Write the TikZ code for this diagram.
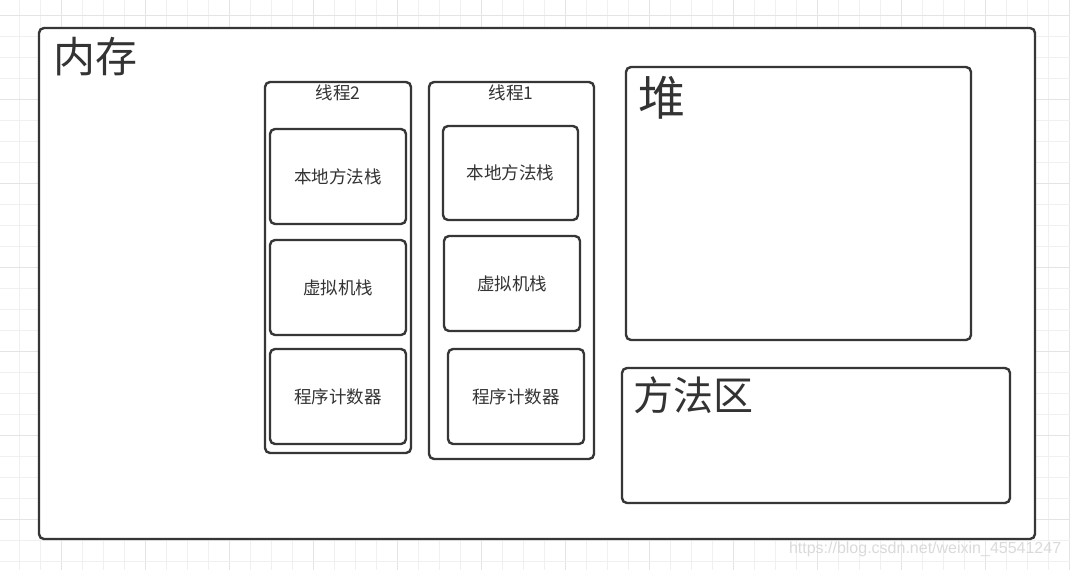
\documentclass[tikz,border=0pt]{standalone}
\usepackage{fontspec}
\setmainfont{Noto Sans CJK SC}
\newfontfamily\wmfont{Liberation Sans}
\definecolor{linec}{HTML}{363636}
\definecolor{textc}{HTML}{333333}
\definecolor{gridminor}{HTML}{F0F0F0}
\definecolor{gridmajor}{HTML}{E4E4E4}
\definecolor{wmc}{HTML}{DADADA}
\tikzset{
  box/.style={draw=linec, line width=2.4pt, rounded corners=5pt, fill=white,
    inner sep=0pt, outer sep=0pt, anchor=north west},
  lbl/.style={text=textc, inner sep=0pt, outer sep=0pt},
  small/.style={lbl, font=\fontsize{17.5}{20}\selectfont},
  big/.style={lbl, anchor=base west},
  gminor/.style={draw=gridminor, line width=1pt},
  gmajor/.style={draw=gridmajor, line width=1pt},
}
\begin{document}
\begin{tikzpicture}[x=1pt, y=-1pt]
\useasboundingbox (0,0) rectangle (1070,570);
\fill[white] (0,0) rectangle (1070,570);
% background grid
\begin{scope}
\clip (0,0) rectangle (1070,570);
\foreach \k in {0,...,50} {
  \pgfmathsetmacro\xx{19+21*\k}
  \pgfmathtruncatemacro\mm{mod(\k,4)}
  \ifnum\mm=2 \draw[gmajor] (\xx,0) -- (\xx,570);
  \else \draw[gminor] (\xx,0) -- (\xx,570); \fi
}
\foreach \k in {0,...,27} {
  \pgfmathsetmacro\yy{15+21*\k}
  \pgfmathtruncatemacro\mm{mod(\k,4)}
  \ifnum\mm=0 \draw[gmajor] (0,\yy) -- (1070,\yy);
  \else \draw[gminor] (0,\yy) -- (1070,\yy); \fi
}
\end{scope}
% memory
\node[box, minimum width=996pt, minimum height=511pt] (mem) at (39,28) {};
\node[big, font=\fontsize{42}{46}\selectfont] (memlbl) at (53,72) {内存};
% thread 2
\node[box, minimum width=146pt, minimum height=371pt] (t2) at (265,82) {};
\node[small] (t2lbl) at (338,93) {线程2};
\node[box, minimum width=136pt, minimum height=95pt] (t2a) at (270,129) {};
\node[small] at (t2a.center) (t2atx) {本地方法栈};
\node[box, minimum width=136pt, minimum height=95pt] (t2b) at (270,240) {};
\node[small] at (t2b.center) (t2btx) {虚拟机栈};
\node[box, minimum width=136pt, minimum height=95pt] (t2c) at (270,349) {};
\node[small] at (t2c.center) (t2ctx) {程序计数器};
% thread 1
\node[box, minimum width=165pt, minimum height=377pt] (t1) at (429,82) {};
\node[small] (t1lbl) at (511,93) {线程1};
\node[box, minimum width=135pt, minimum height=94pt] (t1a) at (443,126) {};
\node[small] at (t1a.center) (t1atx) {本地方法栈};
\node[box, minimum width=136pt, minimum height=95pt] (t1b) at (444,236) {};
\node[small] at (t1b.center) (t1btx) {虚拟机栈};
\node[box, minimum width=136pt, minimum height=95pt] (t1c) at (448,349) {};
\node[small] at (t1c.center) (t1ctx) {程序计数器};
% heap
\node[box, minimum width=345pt, minimum height=273pt] (heap) at (626,67) {};
\node[big, font=\fontsize{47}{52}\selectfont] (heaplbl) at (638,115) {堆};
% method area
\node[box, minimum width=388pt, minimum height=135pt] (ma) at (622,368) {};
\node[big, font=\fontsize{40}{44}\selectfont] (malbl) at (633,410) {方法区};
% watermark
\node[lbl, anchor=base west, text=wmc, font=\wmfont\fontsize{16}{18}\selectfont] (wm) at (789,553) {https://blog.csdn.net/weixin\_45541247};
\end{tikzpicture}
\end{document}
